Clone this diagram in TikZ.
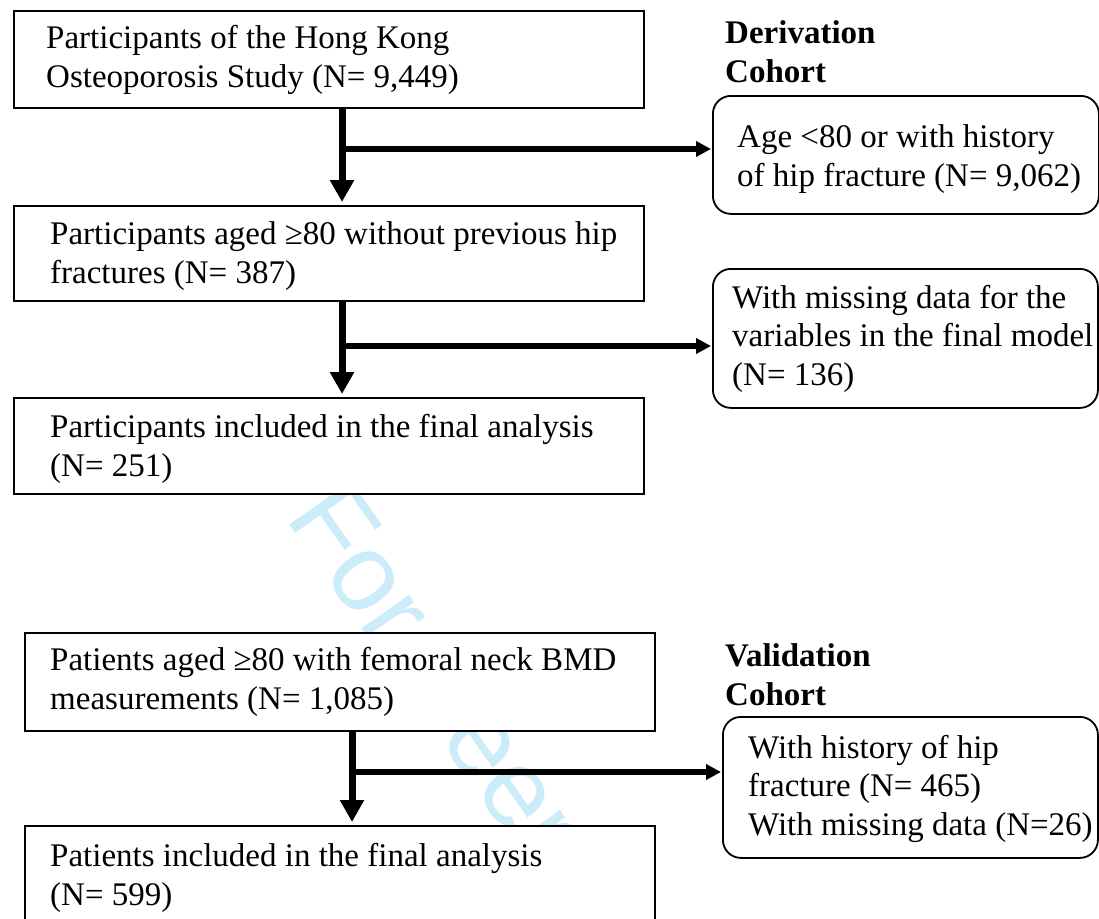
\documentclass[tikz,border=0pt]{standalone}
\usepackage{fontspec}
\setmainfont{Liberation Serif}
\newfontfamily\wmfont{Liberation Sans}
\usetikzlibrary{arrows.meta}
\definecolor{wmblue}{RGB}{205,236,250}
\begin{document}
\begin{tikzpicture}[x=1pt,y=1pt,
  box/.style={draw=black, line width=1.8pt, fill=white, rectangle, inner sep=0pt, anchor=north west},
  rbox/.style={box, rounded corners=18pt},
  txt/.style={anchor=base west, align=left, inner sep=0pt, font=\fontsize{33}{38.5}\selectfont},
  lbl/.style={anchor=base west, align=left, inner sep=0pt, font=\fontsize{33}{39}\selectfont\bfseries},
  vline/.style={line width=7pt, -{Triangle[width=23pt,length=22pt]}, shorten >=3pt},
  hline/.style={line width=5.5pt, -{Triangle[width=15pt,length=15pt]}, shorten >=1pt},
]
\useasboundingbox (0,0) rectangle (1099,-918);
\clip (0,0) rectangle (1099,-918);
% watermark
\node[anchor=base west, inner sep=0pt, rotate=-55, text=wmblue, font=\wmfont\fontsize{110}{110}\selectfont] (wm) at (284,-517) {For Peer Review};
% boxes
\node[box, minimum width=630pt, minimum height=97pt] (b1) at (13,-10) {};
\node[box, minimum width=630pt, minimum height=95pt] (b2) at (13,-205) {};
\node[box, minimum width=630pt, minimum height=96pt] (b3) at (13,-397) {};
\node[box, minimum width=630pt, minimum height=98pt] (b4) at (24,-632) {};
\node[box, minimum width=630pt, minimum height=97pt] (b5) at (24,-825) {};
\node[rbox, minimum width=386pt, minimum height=118pt] (r1) at (712,-95) {};
\node[rbox, minimum width=385pt, minimum height=139pt] (r2) at (712,-268) {};
\node[rbox, minimum width=375pt, minimum height=141pt] (r3) at (722,-716) {};
% texts (anchor = baseline of the last line)
\node[txt] (t1) at (46,-87) {Participants of the Hong Kong\\Osteoporosis Study (N= 9,449)};
\node[txt] (t2) at (50,-283) {Participants aged ≥80 without previous hip\\fractures (N= 387)};
\node[txt] (t3) at (50,-476) {Participants included in the final analysis\\(N= 251)};
\node[txt] (t4) at (50,-709) {Patients aged ≥80 with femoral neck BMD\\measurements (N= 1,085)};
\node[txt] (t5) at (50,-905) {Patients included in the final analysis\\(N= 599)};
\node[txt] (tr1) at (737,-186) {Age <80 or with history\\of hip fracture (N= 9,062)};
\node[txt] (tr2) at (732,-385) {With missing data for the\\variables in the final model\\(N= 136)};
\node[txt] (tr3) at (748,-835) {With history of hip\\fracture (N= 465)\\With missing data (N=26)};
\node[lbl] (l1) at (725,-82) {Derivation\\Cohort};
\node[lbl] (l2) at (725,-705) {Validation\\Cohort};
% connectors
\coordinate (v1) at (342,0);
\coordinate (v3) at (352,0);
\coordinate (h1) at (712,-149);
\coordinate (h2) at (712,-346);
\coordinate (h3) at (722,-772);
\draw[vline] (b1.south -| v1) -- (b2.north -| v1);
\draw[hline] (v1 |- h1) -- (h1 -| r1.west);
\draw[vline] (b2.south -| v1) -- (b3.north -| v1);
\draw[hline] (v1 |- h2) -- (h2 -| r2.west);
\draw[vline] (b4.south -| v3) -- (b5.north -| v3);
\draw[hline] (v3 |- h3) -- (h3 -| r3.west);
\end{tikzpicture}
\end{document}
